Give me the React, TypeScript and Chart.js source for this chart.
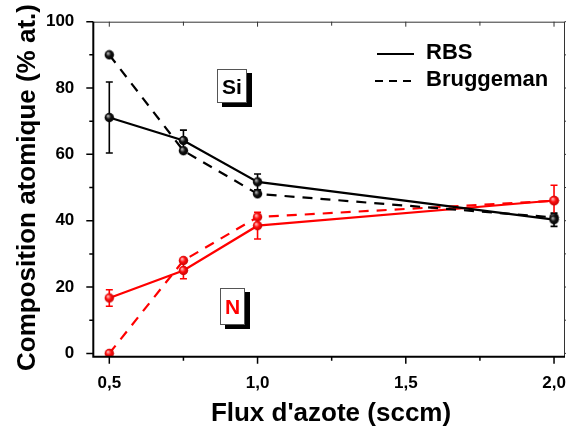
import React, { useEffect, useRef } from "react";
import { Chart, registerables } from "chart.js";

Chart.register(...registerables);

// ---- data ----
const fluxValues = [0.5, 0.75, 1.0, 2.0];
const siRbs = [71.1, 64.2, 51.7, 40.3];
const siRbsErr = [10.7, 3.1, 2.4, 2.0];
const siBruggeman = [90.0, 61.1, 48.1, 41.0];
const nRbs = [16.7, 25.0, 38.5, 46.1];
const nRbsErr = [2.5, 2.5, 4.0, 4.6];
const nBruggeman = [0.0, 28.0, 41.1, 46.0];
const xTicks = [0.5, 1.0, 1.5, 2.0];
const xMinorTicks = [0.75, 1.25, 1.75];
const yTicks = [0, 20, 40, 60, 80, 100];
const yMinorTicks = [10, 30, 50, 70, 90];
const legendLabels = ["RBS", "Bruggeman"];

const FONT = "Arial, 'Liberation Sans', sans-serif";

function makeSphere(base: string, light: string, dark: string) {
  const c = document.createElement("canvas");
  const s = 11;
  c.width = s;
  c.height = s;
  const ctx = c.getContext("2d")!;
  const g = ctx.createRadialGradient(4, 3.8, 0.3, 5.5, 5.5, 5.2);
  g.addColorStop(0, light);
  g.addColorStop(0.45, base);
  g.addColorStop(1, dark);
  ctx.fillStyle = g;
  ctx.beginPath();
  ctx.arc(5.5, 5.5, 4.7, 0, Math.PI * 2);
  ctx.fill();
  return c;
}

const toPts = (ys: number[]) => fluxValues.map((x, i) => ({ x, y: ys[i] }));

export default function App() {
  const ref = useRef<HTMLCanvasElement | null>(null);

  useEffect(() => {
    document.body.style.margin = "0";
    const canvas = ref.current!;
    const blackSphere = makeSphere("#111", "#bbb", "#000");
    const redSphere = makeSphere("#ff1010", "#ffc0c0", "#c00000");

    const errorBars = {
      id: "errorBars",
      beforeDatasetsDraw(chart: any) {
        const { ctx, scales } = chart;
        const xs = scales.x;
        const ys = scales.y;
        const sets = [
          { vals: siRbs, errs: siRbsErr, color: "#000" },
          { vals: nRbs, errs: nRbsErr, color: "#ff0000" },
        ];
        ctx.save();
        ctx.lineWidth = 1.6;
        sets.forEach((s) => {
          ctx.strokeStyle = s.color;
          fluxValues.forEach((xv, i) => {
            const px = xs.getPixelForValue(xv);
            const top = ys.getPixelForValue(s.vals[i] + s.errs[i]);
            const bot = ys.getPixelForValue(s.vals[i] - s.errs[i]);
            ctx.beginPath();
            ctx.moveTo(px, top);
            ctx.lineTo(px, bot);
            ctx.moveTo(px - 3.5, top);
            ctx.lineTo(px + 3.5, top);
            ctx.moveTo(px - 3.5, bot);
            ctx.lineTo(px + 3.5, bot);
            ctx.stroke();
          });
        });
        ctx.restore();
      },
    };

    const frame = {
      id: "frame",
      afterDraw(chart: any) {
        const { ctx, chartArea: a, scales } = chart;
        const xs = scales.x;
        const ys = scales.y;
        ctx.save();
        ctx.lineWidth = 1;
        ctx.strokeStyle = "#333";
        ctx.beginPath();
        ctx.moveTo(a.left, a.top + 0.5);
        ctx.lineTo(a.right, a.top + 0.5);
        ctx.moveTo(a.right - 0.5, a.top);
        ctx.lineTo(a.right - 0.5, a.bottom);
        ctx.stroke();
        ctx.beginPath();
        xTicks.forEach((v) => {
          const p = xs.getPixelForValue(v);
          ctx.moveTo(p, a.top);
          ctx.lineTo(p, a.top + 5);
        });
        xMinorTicks.forEach((v) => {
          const p = xs.getPixelForValue(v);
          ctx.moveTo(p, a.top);
          ctx.lineTo(p, a.top + 4);
        });
        yTicks.forEach((v) => {
          const p = ys.getPixelForValue(v);
          ctx.moveTo(a.right, p);
          ctx.lineTo(a.right + 6, p);
        });
        yMinorTicks.forEach((v) => {
          const p = ys.getPixelForValue(v);
          ctx.moveTo(a.right, p);
          ctx.lineTo(a.right + 4, p);
        });
        ctx.stroke();
        ctx.strokeStyle = "#000";
        ctx.lineWidth = 2;
        ctx.beginPath();
        ctx.moveTo(a.left, a.top);
        ctx.lineTo(a.left, a.bottom);
        ctx.lineTo(a.right, a.bottom);
        ctx.stroke();
        ctx.lineWidth = 1.5;
        ctx.beginPath();
        xTicks.forEach((v) => {
          const p = xs.getPixelForValue(v);
          ctx.moveTo(p, a.bottom);
          ctx.lineTo(p, a.bottom + 7);
        });
        xMinorTicks.forEach((v) => {
          const p = xs.getPixelForValue(v);
          ctx.moveTo(p, a.bottom);
          ctx.lineTo(p, a.bottom + 4);
        });
        yTicks.forEach((v) => {
          const p = ys.getPixelForValue(v);
          ctx.moveTo(a.left, p);
          ctx.lineTo(a.left - 7, p);
        });
        yMinorTicks.forEach((v) => {
          const p = ys.getPixelForValue(v);
          ctx.moveTo(a.left, p);
          ctx.lineTo(a.left - 4, p);
        });
        ctx.stroke();

        // axis titles
        ctx.fillStyle = "#000";
        ctx.font = `bold 26px ${FONT}`;
        ctx.textAlign = "center";
        ctx.textBaseline = "alphabetic";
        ctx.fillText("Flux d'azote (sccm)", 331, 421);
        ctx.save();
        ctx.translate(35, 187.5);
        ctx.rotate(-Math.PI / 2);
        ctx.fillText("Composition atomique (% at.)", 0, 0);
        ctx.restore();

        // legend
        ctx.lineWidth = 2.2;
        ctx.strokeStyle = "#000";
        ctx.beginPath();
        ctx.moveTo(377, 54);
        ctx.lineTo(414, 54);
        ctx.stroke();
        ctx.setLineDash([8, 6]);
        ctx.beginPath();
        ctx.moveTo(375, 81);
        ctx.lineTo(414, 81);
        ctx.stroke();
        ctx.setLineDash([]);
        ctx.font = `bold 22px ${FONT}`;
        ctx.textAlign = "left";
        ctx.textBaseline = "middle";
        ctx.fillText(legendLabels[0], 426, 53);
        ctx.fillText(legendLabels[1], 426, 80);

        // element labels
        const box = (x: number, y: number, w: number, h: number, t: string, col: string) => {
          ctx.fillStyle = "#000";
          ctx.fillRect(x + 5, y + 4, w, h);
          ctx.fillStyle = "#fff";
          ctx.fillRect(x, y, w, h);
          ctx.lineWidth = 1;
          ctx.strokeStyle = "#555";
          ctx.strokeRect(x + 0.5, y + 0.5, w - 1, h - 1);
          ctx.fillStyle = col;
          ctx.font = `bold 21px ${FONT}`;
          ctx.textAlign = "center";
          ctx.textBaseline = "alphabetic";
          ctx.fillText(t, x + w / 2, y + h / 2 + 7.5);
        };
        box(217, 69, 30, 34, "Si", "#000");
        box(220, 288, 25, 37, "N", "#ff0000");
        ctx.restore();
      },
    };

    const chart = new Chart(canvas, {
      type: "line",
      data: {
        datasets: [
          {
            label: "Si RBS",
            data: toPts(siRbs),
            borderColor: "#000",
            borderWidth: 2.2,
            pointStyle: blackSphere as any,
          },
          {
            label: "Si Bruggeman",
            data: toPts(siBruggeman),
            borderColor: "#000",
            borderWidth: 2.2,
            borderDash: [10, 8],
            pointStyle: blackSphere as any,
          },
          {
            label: "N RBS",
            data: toPts(nRbs),
            borderColor: "#ff0000",
            borderWidth: 2.2,
            pointStyle: redSphere as any,
          },
          {
            label: "N Bruggeman",
            data: toPts(nBruggeman),
            borderColor: "#ff0000",
            borderWidth: 2.2,
            borderDash: [10, 8],
            pointStyle: redSphere as any,
          },
        ],
      },
      options: {
        responsive: false,
        animation: false,
        devicePixelRatio: 1,
        layout: { padding: { top: 21.7, right: 1, left: 0, bottom: 0 }, autoPadding: false },
        plugins: { legend: { display: false }, tooltip: { enabled: false } },
        elements: { line: { tension: 0, fill: false } },
        scales: {
          x: {
            type: "linear",
            position: "bottom",
            min: 0.446,
            max: 2.037,
            grid: { display: false },
            border: { display: false },
            afterBuildTicks: (s: any) => {
              s.ticks = xTicks.map((v) => ({ value: v }));
            },
            afterFit: (s: any) => {
              s.height = 427 - 356.7;
              s.paddingLeft = 0;
              s.paddingRight = 0;
              s.paddingTop = 0;
              s.paddingBottom = 0;
            },
            ticks: {
              color: "#000",
              padding: 8,
              maxRotation: 0,
              font: { family: FONT, weight: "bold", size: 17 },
              callback: (v: any) => Number(v).toFixed(1).replace(".", ","),
            },
          },
          y: {
            type: "linear",
            min: -1,
            max: 100,
            grid: { display: false },
            border: { display: false },
            afterBuildTicks: (s: any) => {
              s.ticks = yTicks.map((v) => ({ value: v }));
            },
            afterFit: (s: any) => {
              s.width = 93.3;
              s.paddingLeft = 0;
              s.paddingRight = 0;
              s.paddingTop = 0;
              s.paddingBottom = 0;
            },
            ticks: {
              color: "#000",
              padding: 11,
              font: { family: FONT, weight: "bold", size: 17 },
              callback: (v: any) => String(v),
            },
          },
        },
      },
      plugins: [errorBars, frame],
    } as any);
    return () => chart.destroy();
  }, []);

  return (
    <div style={{ width: 566, height: 427, background: "#fff" }}>
      <canvas ref={ref} width={566} height={427} />
    </div>
  );
}
